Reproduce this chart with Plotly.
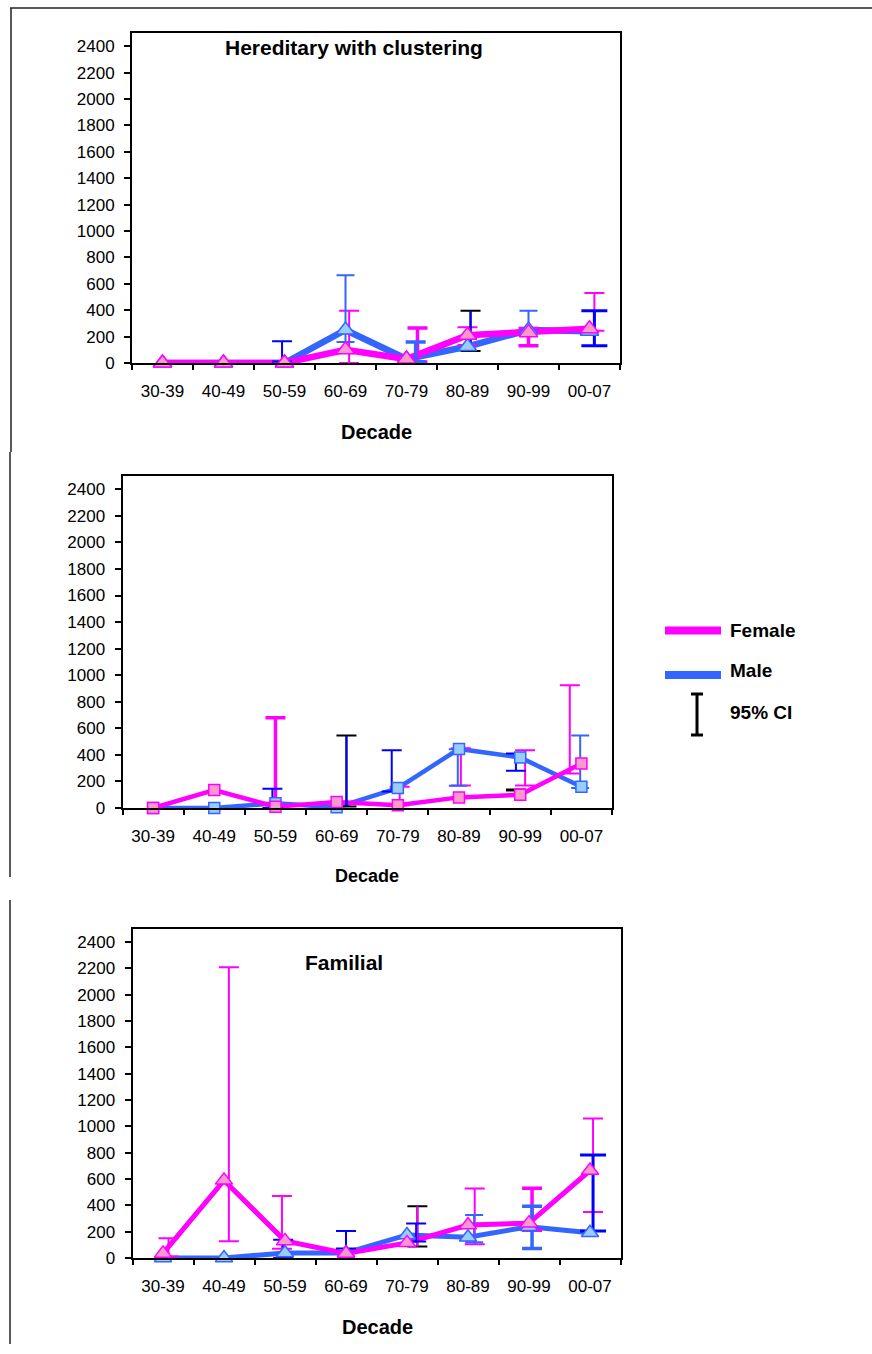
import plotly.graph_objects as go

W, H = 872, 1354
H_EFF = 1344  # vertical pixel span used to place elements

DECADES = ["30-39", "40-49", "50-59", "60-69", "70-79", "80-89", "90-99", "00-07"]
Y_TICKS = list(range(0, 2401, 200))

# ---- Panel 1: Hereditary with clustering ----
HER_FEMALE = [0, 0, 0, 100, 30, 210, 230, 260]
HER_MALE = [0, 0, 0, 250, 30, 125, 250, 240]
# 95% CI: (decades, lower, upper)
HER_CI = {
    "magenta": (["60-69", "80-89", "00-07"], [0, 136, 245], [395, 270, 530]),
    "magenta_thick": (["70-79", "90-99"], [8, 131], [265, 262]),
    "lightblue": (["60-69", "90-99"], [160, 245], [665, 395]),
    "lightblue_thick": (["70-79"], [10], [160]),
    "darkblue": (["50-59"], [12], [165]),
    "darkblue_blackcap": (["80-89"], [90], [395]),
    "darkblue_thick": (["00-07"], [130], [395]),
}

# ---- Panel 2 ----
SEC_FEMALE = [0, 135, 10, 45, 20, 80, 100, 335]
SEC_MALE = [0, 0, 35, 5, 150, 445, 380, 160]
SEC_CI = {
    "magenta_thick": (["50-59"], [-30], [680]),
    "magenta": (["70-79", "80-89", "90-99", "00-07"], [20, 170, 170, 260], [160, 450, 435, 925]),
    "lightblue": (["80-89", "00-07"], [168, 150], [442, 545]),
    "darkblue": (["50-59", "70-79", "90-99"], [0, 125, 280], [145, 435, 410]),
    "darkblue_blackcap": (["60-69"], [12], [545]),
    "black": (["90-99"], [132], [140]),
}

# ---- Panel 3: Familial ----
FAM_FEMALE = [35, 590, 130, 35, 115, 250, 265, 665]
FAM_MALE = [0, 0, 38, 38, 175, 158, 238, 192]
FAM_CI = {
    "magenta": (["30-39", "40-49", "50-59", "80-89", "00-07"], [12, 128, 70, 105, 350], [150, 2210, 472, 528, 1060]),
    "magenta_thick": (["90-99"], [210], [530]),
    "magenta_blackcap": (["70-79"], [87], [393]),
    "darkblue": (["50-59", "60-69", "70-79"], [0, 72, 125], [138, 205, 262]),
    "darkblue_thick": (["00-07"], [205], [782]),
    "lightblue": (["80-89"], [120], [326]),
    "lightblue_thick": (["90-99"], [72], [393]),
}

# ---- styles ----
MAGENTA = "#FF00FF"
BLUE = "#3366FF"
DARKBLUE = "#0000FF"
BLACK = "#000000"
PINK_FILL = "#FF99CC"
LBLUE_FILL = "#99CCFF"

GROUP_STYLE = {
    "magenta": dict(line=MAGENTA, cap=MAGENTA, th=2, w=10),
    "magenta_thick": dict(line=MAGENTA, cap=MAGENTA, th=3.5, w=10),
    "magenta_blackcap": dict(line=MAGENTA, cap=BLACK, th=2, w=10),
    "lightblue": dict(line=BLUE, cap=BLUE, th=2, w=9),
    "lightblue_thick": dict(line=BLUE, cap=BLUE, th=3.5, w=10),
    "darkblue": dict(line=DARKBLUE, cap=DARKBLUE, th=2, w=10),
    "darkblue_thick": dict(line=DARKBLUE, cap=DARKBLUE, th=3, w=13),
    "darkblue_blackcap": dict(line=DARKBLUE, cap=BLACK, th=2, w=10),
    "black": dict(line=BLACK, cap=BLACK, th=2, w=10),
}

# small horizontal offsets of CI bars (fraction of a category)
OFFSETS = {
    1: {"magenta": [0.06, 0.0, 0.08], "magenta_thick": [0.18, 0.0], "lightblue": [0.0, 0.0],
        "lightblue_thick": [0.15], "darkblue": [-0.04], "darkblue_blackcap": [0.05],
        "darkblue_thick": [0.08]},
    2: {"magenta_thick": [0.0], "magenta": [0.03, 0.03, 0.08, -0.19], "lightblue": [-0.02, -0.02],
        "darkblue": [-0.05, -0.1, -0.07], "darkblue_blackcap": [0.16], "black": [-0.07]},
    3: {"magenta": [0.09, 0.08, -0.05, 0.11, 0.05], "magenta_thick": [0.05], "magenta_blackcap": [0.17],
        "darkblue": [-0.03, 0.0, 0.15], "darkblue_thick": [0.05], "lightblue": [0.1],
        "lightblue_thick": [0.05]},
}

PANELS = [
    dict(n=1, female=HER_FEMALE, male=HER_MALE, ci=HER_CI, symbol="triangle-up", msize=16, lw=6.5,
         x0=132, x1=620, y0=33, y1=363),
    dict(n=2, female=SEC_FEMALE, male=SEC_MALE, ci=SEC_CI, symbol="square", msize=11, lw=4.5,
         x0=122.5, x1=612, y0=476, y1=808),
    dict(n=3, female=FAM_FEMALE, male=FAM_MALE, ci=FAM_CI, symbol="triangle-up", msize=15, lw=5,
         x0=132.5, x1=620.5, y0=929, y1=1258),
]


def px(x):
    return x / W


def py(y):
    return max(0.0, 1 - y / H_EFF)


fig = go.Figure()
layout = {}
xs_idx = list(range(len(DECADES)))

for p in PANELS:
    n = p["n"]
    xa = "x" if n == 1 else f"x{n}"
    ya = "y" if n == 1 else f"y{n}"
    # lines
    for vals, col in ((p["male"], BLUE), (p["female"], MAGENTA)):
        fig.add_trace(go.Scatter(x=xs_idx, y=vals, mode="lines", line=dict(color=col, width=p["lw"]),
                                 xaxis=xa, yaxis=ya, showlegend=False, hoverinfo="skip"))
    # CI bars
    for g, (decs, lo, hi) in p["ci"].items():
        st = GROUP_STYLE[g]
        offs = OFFSETS[n][g]
        xx = [DECADES.index(d) + o for d, o in zip(decs, offs)]
        mid = [(a + b) / 2 for a, b in zip(lo, hi)]
        half = [(b - a) / 2 for a, b in zip(lo, hi)]
        fig.add_trace(go.Scatter(x=xx, y=mid, mode="markers", marker=dict(size=1, opacity=0),
                                 error_y=dict(type="data", array=half, symmetric=True, color=st["cap"],
                                              thickness=st["th"], width=st["w"]),
                                 cliponaxis=False, xaxis=xa, yaxis=ya, showlegend=False, hoverinfo="skip"))
        if st["line"] != st["cap"]:
            fig.add_trace(go.Scatter(x=xx, y=mid, mode="markers", marker=dict(size=1, opacity=0),
                                     error_y=dict(type="data", array=half, symmetric=True, color=st["line"],
                                                  thickness=st["th"], width=0),
                                     cliponaxis=False, xaxis=xa, yaxis=ya, showlegend=False, hoverinfo="skip"))
    # markers on top
    for vals, col, fill in ((p["male"], BLUE, LBLUE_FILL), (p["female"], MAGENTA, PINK_FILL)):
        fig.add_trace(go.Scatter(x=xs_idx, y=vals, mode="markers",
                                 marker=dict(symbol=p["symbol"], size=p["msize"], color=fill,
                                             line=dict(color=col, width=1.5)),
                                 cliponaxis=False, xaxis=xa, yaxis=ya, showlegend=False, hoverinfo="skip"))

    xkey = "xaxis" if n == 1 else f"xaxis{n}"
    ykey = "yaxis" if n == 1 else f"yaxis{n}"
    layout[xkey] = dict(domain=[px(p["x0"]), px(p["x1"])], anchor=ya, range=[-0.5, 7.5],
                        tickvals=xs_idx, ticktext=DECADES, ticks="", showgrid=False, zeroline=False,
                        showline=True, linecolor="black", linewidth=2, mirror=True,
                        tickfont=dict(family="Liberation Sans, Arial", size=17, color="black"),
                        ticklabelstandoff=12,
                        minor=dict(tickvals=[i - 0.5 for i in range(9)], ticks="outside", ticklen=5,
                                   tickwidth=1.5, tickcolor="black", showgrid=False))
    layout[ykey] = dict(domain=[py(p["y1"]), py(p["y0"])], anchor=xa, range=[0, 2500],
                        tickvals=Y_TICKS, ticks="outside", ticklen=6, tickwidth=1.5, tickcolor="black",
                        showgrid=False, zeroline=False, showline=True, linecolor="black", linewidth=2,
                        mirror=True, ticklabelstandoff=6,
                        tickfont=dict(family="Liberation Sans, Arial", size=17, color="black"))

FONT = "Liberation Sans, Arial"
annotations = [
    dict(text="<b>Hereditary with clustering</b>", x=px(354), y=py(48), font=dict(size=21)),
    dict(text="<b>Familial</b>", x=px(344), y=py(962), font=dict(size=21)),
    dict(text="<b>Decade</b>", x=px(376), y=py(432), font=dict(size=20)),
    dict(text="<b>Decade</b>", x=px(367), y=py(876), font=dict(size=18)),
    dict(text="<b>Decade</b>", x=px(377), y=py(1327), font=dict(size=20)),
    dict(text="<b>Female</b>", x=px(728), y=py(630), font=dict(size=19), xanchor="left"),
    dict(text="<b>Male</b>", x=px(728), y=py(670), font=dict(size=19), xanchor="left"),
    dict(text="<b>95% CI</b>", x=px(728), y=py(713), font=dict(size=19), xanchor="left"),
]
for a in annotations:
    a.update(xref="paper", yref="paper", showarrow=False, yanchor="middle")
    a.setdefault("xanchor", "center")
    a["font"].update(family=FONT, color="black")

shapes = [
    # legend swatches
    dict(type="line", x0=px(665), x1=px(721), y0=py(630.5), y1=py(630.5), line=dict(color=MAGENTA, width=8)),
    dict(type="line", x0=px(665), x1=px(721), y0=py(675), y1=py(675), line=dict(color=BLUE, width=8)),
    dict(type="line", x0=px(697), x1=px(697), y0=py(694), y1=py(735), line=dict(color="black", width=3)),
    dict(type="line", x0=px(691), x1=px(703), y0=py(694), y1=py(694), line=dict(color="black", width=3)),
    dict(type="line", x0=px(691), x1=px(703), y0=py(735), y1=py(735), line=dict(color="black", width=3)),
    # outer frame
    dict(type="line", x0=px(10), x1=px(872), y0=py(8), y1=py(8), line=dict(color="#222222", width=1.5)),
    dict(type="line", x0=px(11), x1=px(11), y0=py(8), y1=py(452), line=dict(color="#222222", width=1.5)),
    dict(type="line", x0=px(10), x1=px(10), y0=py(452), y1=py(877), line=dict(color="#222222", width=1.5)),
    dict(type="line", x0=px(10), x1=px(10), y0=py(900), y1=0, line=dict(color="#222222", width=1.5)),
]
for s in shapes:
    s.update(xref="paper", yref="paper")

fig.update_layout(width=W, height=H, margin=dict(l=0, r=0, t=0, b=0), paper_bgcolor="white",
                  plot_bgcolor="white", showlegend=False, annotations=annotations, shapes=shapes,
                  font=dict(family=FONT, color="black"), **layout)

fig.write_html("out.html")
